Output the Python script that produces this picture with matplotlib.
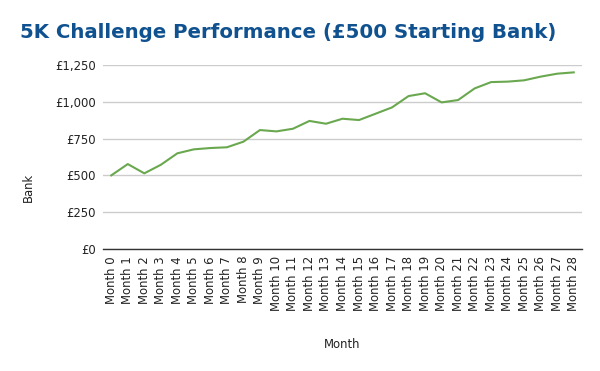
import numpy as np
import matplotlib
matplotlib.use("Agg")
import matplotlib.pyplot as plt
from matplotlib.ticker import FuncFormatter

months = ["Month %d" % i for i in range(29)]
bank = [500, 577, 514, 572, 650, 677, 686, 691, 729, 808,
        799, 817, 870, 851, 885, 876, 919, 962, 1039, 1058,
        996, 1012, 1091, 1134, 1137, 1146, 1171, 1191, 1200]
y_ticks = [0, 250, 500, 750, 1000, 1250]

TITLE_COLOR = '#10518f'
LINE_COLOR = '#6aa84f'

plt.rcParams['font.family'] = 'DejaVu Sans'

fig = plt.figure(figsize=(6, 3.71), dpi=100)
ax = fig.add_axes([103/600, 1-249/371, 479/600, 184/371])

x = np.arange(len(months))
ax.plot(x, bank, color=LINE_COLOR, lw=1.5, solid_joinstyle='round')

ax.set_xlim(-0.5, len(months) - 0.5)
ax.set_ylim(0, 1250)
ax.set_yticks(y_ticks)
ax.yaxis.set_major_formatter(FuncFormatter(lambda v, p: "£{:,.0f}".format(v)))
ax.set_xticks(x)
ax.set_xticklabels(months, rotation=90, fontsize=8.4)
ax.tick_params(axis='y', length=0, pad=5, labelsize=8.4, colors='#222222')
ax.tick_params(axis='x', length=0, pad=5, colors='#222222')

ax.grid(axis='y', color='#cccccc', lw=1)
ax.set_axisbelow(True)
for s in ['top', 'right', 'left']:
    ax.spines[s].set_visible(False)
ax.spines['bottom'].set_color('#333333')
ax.spines['bottom'].set_linewidth(1)

fig.text(20/600, 1-33/371, "5K Challenge Performance (£500 Starting Bank)",
         fontsize=14.2, fontweight='bold', color=TITLE_COLOR, va='center', ha='left')
fig.text(28/600, 1-187/371, "Bank", rotation=90, fontsize=8.4, va='center', ha='center', color='#222222')
fig.text(342/600, 1-344/371, "Month", fontsize=8.4, va='center', ha='center', color='#222222')

plt.savefig('out.png', dpi=100)
